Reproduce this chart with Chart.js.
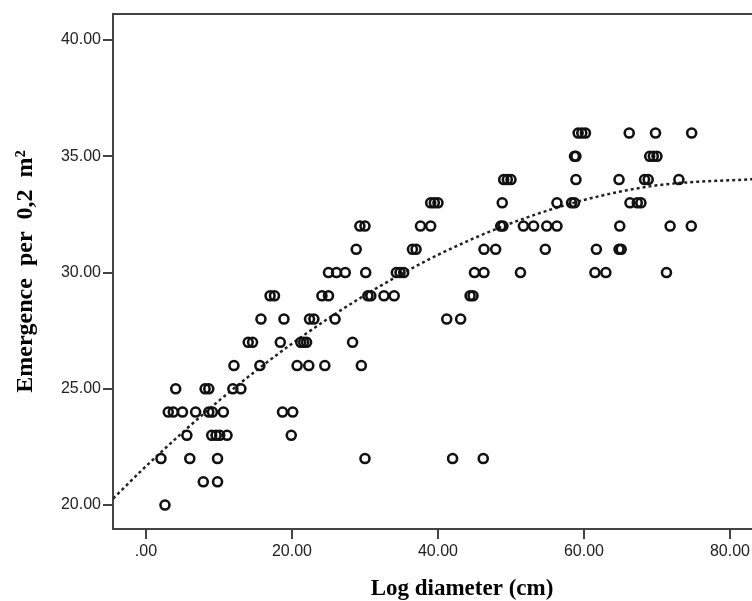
<!DOCTYPE html>
<html>
<head>
<meta charset="utf-8">
<script src="https://cdn.jsdelivr.net/npm/chart.js@4"></script>
<style>
  html,body{margin:0;padding:0;background:#fff;overflow:hidden}
  #wrap{width:830px;height:601px}
</style>
</head>
<body>
<div id="wrap"><canvas id="c" width="830" height="601"></canvas></div>
<script>
// log diameter (cm) and emergence per 0,2 m2
const diam = [
  59.2,59.7,60.2,66.2,69.8,74.75,
  58.7,58.9,69.0,69.5,70.0,
  49.0,49.5,50.0,58.9,64.8,68.3,68.8,73.0,
  39.0,39.5,40.0,48.8,56.3,58.3,58.7,66.3,67.3,67.8,
  29.3,30.0,37.6,39.0,48.6,48.9,51.7,53.1,54.9,56.3,64.9,71.8,74.7,
  28.8,36.5,37.0,46.3,47.9,54.7,61.7,64.8,65.1,
  25.0,26.1,27.3,30.1,34.3,34.8,35.3,45.0,46.3,51.3,61.5,63.0,71.3,
  17.0,17.6,24.1,25.0,30.4,30.8,32.6,34.0,44.4,44.8,
  15.75,18.9,22.4,23.0,25.9,41.2,43.1,
  14.0,14.6,18.4,21.2,21.6,22.0,28.3,
  12.05,15.6,20.7,22.3,24.5,29.5,
  4.07,8.1,8.6,11.9,13.0,
  3.05,3.74,5.0,6.8,8.6,9.1,10.6,18.7,20.1,
  5.6,9.0,9.6,10.1,11.1,19.9,
  2.05,6.0,9.8,30.0,42.0,46.2,
  7.85,9.8,
  2.6
];
const emerg = [
  36,36,36,36,36,36,
  35,35,35,35,35,
  34,34,34,34,34,34,34,34,
  33,33,33,33,33,33,33,33,33,33,
  32,32,32,32,32,32,32,32,32,32,32,32,32,
  31,31,31,31,31,31,31,31,31,
  30,30,30,30,30,30,30,30,30,30,30,30,30,
  29,29,29,29,29,29,29,29,29,29,
  28,28,28,28,28,28,28,
  27,27,27,27,27,27,27,
  26,26,26,26,26,26,
  25,25,25,25,25,
  24,24,24,24,24,24,24,24,24,
  23,23,23,23,23,23,
  22,22,22,22,22,22,
  21,21,
  20
];
// dotted fit curve, read at a few x positions
const fitX = [-4.5, 0, 10, 20, 30, 40, 50, 60, 70, 84];
const fitY = [20.28, 21.67, 24.49, 26.94, 29.03, 30.76, 32.12, 33.12, 33.75, 34.03];

const xTicks = [0, 20, 40, 60, 80];
const xTickLabels = ['.00', '20.00', '40.00', '60.00', '80.00'];
const yTicks = [20, 25, 30, 35, 40];
const yTickLabels = ['20.00', '25.00', '30.00', '35.00', '40.00'];

const axisCol = '#444';

const topBorder = {
  id: 'topBorder',
  afterDraw(chart){
    const a = chart.chartArea, ctx = chart.ctx;
    ctx.save();
    ctx.strokeStyle = axisCol; ctx.lineWidth = 2;
    ctx.beginPath(); ctx.moveTo(a.left - 1, a.top); ctx.lineTo(a.right, a.top); ctx.stroke();
    ctx.restore();
  }
};

new Chart(document.getElementById('c'), {
  type: 'scatter',
  data: {
    datasets: [
      {
        data: diam.map((v, i) => ({x: v, y: emerg[i]})),
        pointStyle: 'circle', pointRadius: 4.5, borderWidth: 2.6,
        borderColor: '#111', backgroundColor: 'rgba(0,0,0,0)', pointHoverRadius: 4.5
      },
      {
        type: 'line',
        data: fitX.map((v, i) => ({x: v, y: fitY[i]})),
        borderColor: '#222', borderWidth: 2.5, borderDash: [3, 3],
        pointRadius: 0, fill: false, cubicInterpolationMode: 'monotone'
      }
    ]
  },
  options: {
    responsive: false, animation: false,
    layout: {autoPadding: false, padding: {top: 14, right: 19, bottom: 0, left: 0}},
    plugins: {legend: {display: false}, tooltip: {enabled: false}},
    scales: {
      x: {
        type: 'linear', min: -4.52, max: 91.1,
        afterFit(s){ s.height = 72; },
        afterBuildTicks(s){ s.ticks = xTicks.map(v => ({value: v})); },
        grid: {drawOnChartArea: false, tickLength: 10, tickColor: axisCol, lineWidth: 2},
        border: {display: true, color: axisCol, width: 2},
        ticks: {
          padding: 3, color: '#222', maxRotation: 0,
          font: {family: 'Liberation Sans', size: 16},
          callback: (v) => xTickLabels[xTicks.indexOf(v)]
        },
        title: {
          display: true, text: 'Log diameter (cm)', color: '#000',
          font: {family: 'Liberation Serif', size: 23, weight: 'bold', lineHeight: 1},
          padding: {top: 0, bottom: 0}
        }
      },
      y: {
        type: 'linear', min: 18.97, max: 41.12,
        afterFit(s){ s.width = 113; },
        afterBuildTicks(s){ s.ticks = yTicks.map(v => ({value: v})); },
        grid: {drawOnChartArea: false, tickLength: 10, tickColor: axisCol, lineWidth: 2},
        border: {display: true, color: axisCol, width: 2},
        ticks: {
          padding: 2, color: '#222',
          font: {family: 'Liberation Sans', size: 16},
          callback: (v) => yTickLabels[yTicks.indexOf(v)]
        },
        title: {
          display: true, text: 'Emergence  per  0,2  m²', color: '#000',
          font: {family: 'Liberation Serif', size: 24, weight: 'bold'},
          padding: {top: 11, bottom: 0}
        }
      }
    }
  },
  plugins: [topBorder]
});
</script>
</body>
</html>
